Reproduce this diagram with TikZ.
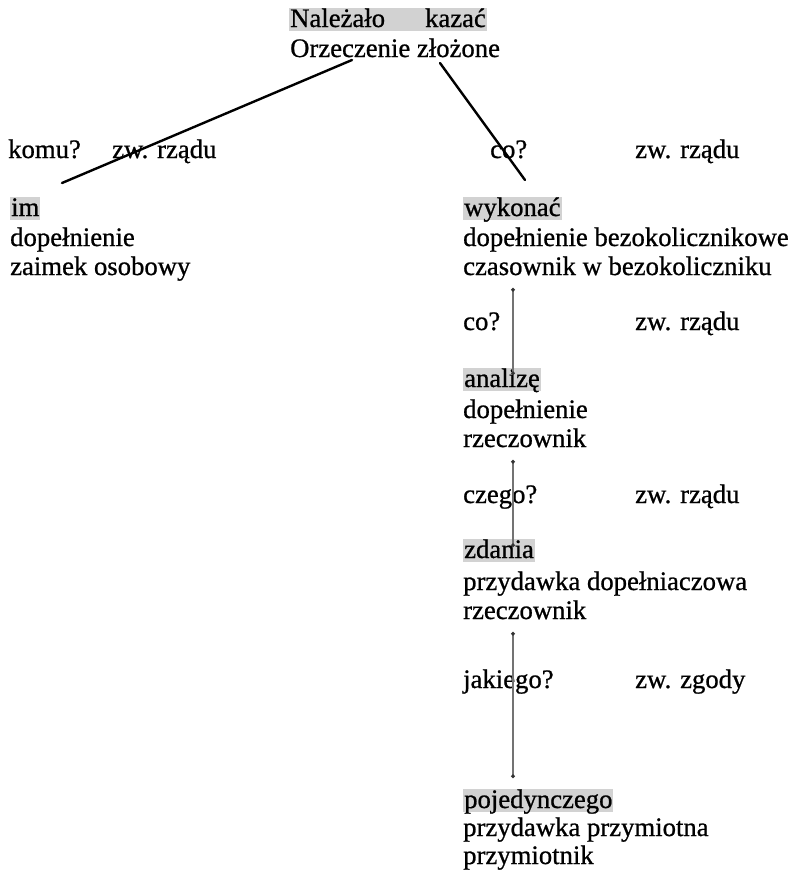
\documentclass[tikz,border=0pt]{standalone}
\usepackage{fontspec}
\setmainfont{Liberation Serif}[FakeBold=0.8]
\usetikzlibrary{arrows.meta}
\begin{document}
\begin{tikzpicture}[x=1pt,y=-1pt,
  txt/.style={anchor=base west, inner sep=0pt, font=\fontsize{26.7}{30}\selectfont},
  hl/.style={txt, fill=gray!35, inner xsep=1pt, text height=19pt, text depth=4pt},
  conn/.style={line width=2.4pt, line cap=round},
  vconn/.style={black!55, line width=2.2pt, {Circle[length=3.5pt,black!80]}-{Circle[length=3.5pt,black!80]}}]
\useasboundingbox (0,0) rectangle (794,879);
% top
\node[hl] (n1) at (289,27) {Należało\hspace{40pt}kazać};
\node[txt] (n2) at (290,57) {Orzeczenie złożone};
% first question row
\node[txt] (q1) at (8,158) {komu?};
\node[txt] (r1) at (112,158) {zw. rządu};
\node[txt] (q2) at (490,158) {co?};
\node[txt] (r2) at (635,158) {zw. rządu};
% left block
\node[hl] (im1) at (10,216) {im};
\node[txt] (im2) at (10,246) {dopełnienie};
\node[txt] (im3) at (10,275) {zaimek osobowy};
% right column
\node[hl] (w1) at (463,216) {wykonać};
\node[txt] (w2) at (463,246) {dopełnienie bezokolicznikowe};
\node[txt] (w3) at (463,275) {czasownik w bezokoliczniku};
\node[txt] (q3) at (463,330) {co?};
\node[txt] (r3) at (635,330) {zw. rządu};
\node[hl] (a1) at (463,387) {analizę};
\node[txt] (a2) at (463,418) {dopełnienie};
\node[txt] (a3) at (463,447) {rzeczownik};
\node[txt] (q4) at (463,503) {czego?};
\node[txt] (r4) at (635,503) {zw. rządu};
\node[hl] (z1) at (463,558) {zdania};
\node[txt] (z2) at (463,590) {przydawka dopełniaczowa};
\node[txt] (z3) at (463,619) {rzeczownik};
\node[txt] (q5) at (463,688) {jakiego?};
\node[txt] (r5) at (635,688) {zw. zgody};
\node[hl] (p1) at (463,808) {pojedynczego};
\node[txt] (p2) at (463,836) {przydawka przymiotna};
\node[txt] (p3) at (463,864) {przymiotnik};
% connector ends
\coordinate (l1s) at (352,60);
\coordinate (l1e) at (62,183);
\coordinate (l2s) at (440,63);
\coordinate (l2e) at (525,180);
\coordinate (v1s) at (513,288);
\coordinate (v1e) at (513,375);
\coordinate (v2s) at (513,460);
\coordinate (v2e) at (513,547);
\coordinate (v3s) at (513,632);
\coordinate (v3e) at (513,778);
\draw[conn] (l1s) -- (l1e);
\draw[conn] (l2s) -- (l2e);
\draw[vconn] (v1s) -- (v1e);
\draw[vconn] (v2s) -- (v2e);
\draw[vconn] (v3s) -- (v3e);
\end{tikzpicture}
\end{document}
